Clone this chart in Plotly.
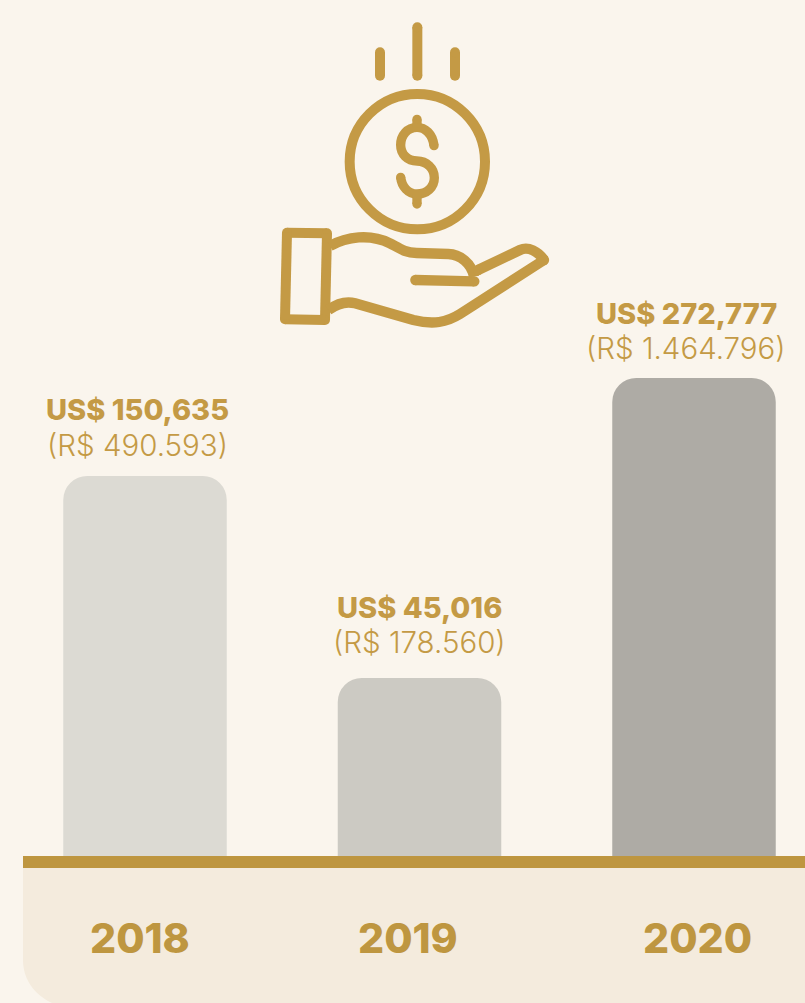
import re
import plotly.graph_objects as go

W, H = 805, 1003
FONT = "Inter"
GOLD = "#C49A45"
RULE = "#BE9640"

years = ["2018", "2019", "2020"]
usd_labels = ["US$ 150,635", "US$ 45,016", "US$ 272,777"]
brl_labels = ["(R$ 490.593)", "(R$ 178.560)", "(R$ 1.464.796)"]
# Bar lengths as drawn in the picture (the source's bars are not to scale with the labels)
bar_heights = [380, 178, 478]
bar_colors = ["#DCDAD3", "#CCCAC3", "#AEABA5"]

# label placement in page pixels
label_x = [137.5, 419.5, 686]
usd_y = [409, 607, 313]
brl_y = [445, 642, 348]
year_x = [140, 408, 697]
YEAR_Y = 938

px = lambda x: x / W
py = lambda y: 1 - y / H


def page_path(d, fx=lambda x: x, fy=lambda y: y):
    """Turn a path given in page pixels into paper coordinates."""
    out, is_x = [], True
    for tok in re.findall(r"[A-Za-z]|-?\d+\.?\d*", d):
        if tok.isalpha():
            out.append(tok)
            is_x = True
        else:
            v = float(tok)
            out.append(f"{px(fx(v)):.5f}" if is_x else f"{py(fy(v)):.5f}")
            is_x = not is_x
    res, i = "", 0
    for t in out:
        if t.isalpha():
            res += t
        else:
            i += 1
            res += t + ("," if i % 2 else " ")
    return res


zx = lambda x: 270 + x / 3
zy = lambda y: 10 + y / 3

shapes = []


def stroke(d, width, caps=()):
    shapes.append(dict(type="path", xref="paper", yref="paper",
                       path=page_path(d, zx, zy),
                       line=dict(color=GOLD, width=width / 3), layer="above"))
    for cx, cy in caps:
        r = width / 2
        shapes.append(dict(type="circle", xref="paper", yref="paper",
                           x0=px(zx(cx - r)), x1=px(zx(cx + r)),
                           y0=py(zy(cy - r)), y1=py(zy(cy + r)),
                           fillcolor=GOLD, line=dict(width=0), layer="above"))


# band under the axis
shapes.append(dict(type="path", xref="paper", yref="paper",
                   path=page_path("M 23 868 L 805 868 L 805 1003 L 52 1003 C 35 995 23 980 23 960 Z"),
                   fillcolor="#F4EBDD", line=dict(width=0), layer="above"))
# axis rule
shapes.append(dict(type="rect", xref="paper", yref="paper",
                   x0=px(23), x1=1, y0=py(868), y1=py(856),
                   fillcolor=RULE, line=dict(width=0), layer="above"))

# icon: falling lines
stroke("M 330 127 L 330 197", 30, [(330, 127), (330, 197)])
stroke("M 442 52 L 442 197", 30, [(442, 52), (442, 197)])
stroke("M 555 127 L 555 197", 30, [(555, 127), (555, 197)])
# icon: coin
shapes.append(dict(type="circle", xref="paper", yref="paper",
                   x0=px(zx(442 - 203)), x1=px(zx(442 + 203)),
                   y0=py(zy(455 - 203)), y1=py(zy(455 + 203)),
                   line=dict(color=GOLD, width=10), fillcolor="rgba(0,0,0,0)", layer="above"))
stroke("M 492 407 C 488 372 465 352 441 352 C 412 352 392 376 392 405 C 392 432 412 453 441 453 "
       "C 470 453 493 475 493 503 C 493 532 470 552 441 552 C 414 552 395 530 392 502",
       28, [(492, 407), (392, 502)])
stroke("M 441 328 L 441 352", 28, [(441, 328)])
stroke("M 441 552 L 441 582", 28, [(441, 582)])
# icon: cuff, side by side so that the corners come out round
stroke("M 51 668 L 171 670", 30, [(51, 668), (171, 670)])
stroke("M 171 670 L 165 930", 30, [(165, 930)])
stroke("M 165 930 L 45 928", 30, [(45, 928)])
stroke("M 45 928 L 51 668", 30, [])
# icon: hand
stroke("M 180 708 C 230 680 300 670 360 700 C 390 716 405 728 440 729 L 535 732 "
       "C 570 733 605 760 612 800", 31, [])
stroke("M 436 810 L 613 814", 31, [(436, 810), (613, 814)])
stroke("M 624 780 L 750 720 C 775 708 805 725 822 750", 31, [(822, 750), (624, 780)])
stroke("M 822 750 L 570 912 C 530 937 490 945 430 930 L 255 880 C 225 872 200 882 175 900", 31, [])

annotations = []
for i in range(3):
    annotations.append(dict(x=px(label_x[i]), y=py(usd_y[i]), xref="paper", yref="paper",
                            text=usd_labels[i], showarrow=False, xanchor="center", yanchor="middle",
                            font=dict(family=FONT, size=29, color=GOLD, weight=800)))
    annotations.append(dict(x=px(label_x[i]), y=py(brl_y[i]), xref="paper", yref="paper",
                            text=brl_labels[i], showarrow=False, xanchor="center", yanchor="middle",
                            font=dict(family=FONT, size=29.5, color=GOLD, weight=300)))
    annotations.append(dict(x=px(year_x[i]), y=py(YEAR_Y), xref="paper", yref="paper",
                            text=years[i], showarrow=False, xanchor="center", yanchor="middle",
                            font=dict(family=FONT, size=41, color=RULE, weight=800)))

fig = go.Figure(go.Bar(x=years, y=bar_heights, marker=dict(color=bar_colors, line=dict(width=0)),
                       width=163.5 / 274.5, hoverinfo="skip"))
fig.update_layout(
    width=W, height=H, margin=dict(l=0, r=0, t=0, b=0, pad=0),
    paper_bgcolor="#FAF5ED", plot_bgcolor="#FAF5ED",
    barcornerradius=24, showlegend=False,
    shapes=shapes, annotations=annotations,
    xaxis=dict(type="category", range=[-145 / 274.5, (805 - 145) / 274.5], visible=False, fixedrange=True),
    yaxis=dict(range=[856 - 1003, 856], visible=False, fixedrange=True),
)
fig.write_html("out.html", config=dict(displayModeBar=False),
               post_script="document.body.style.margin='0';document.documentElement.style.overflow='hidden';")
